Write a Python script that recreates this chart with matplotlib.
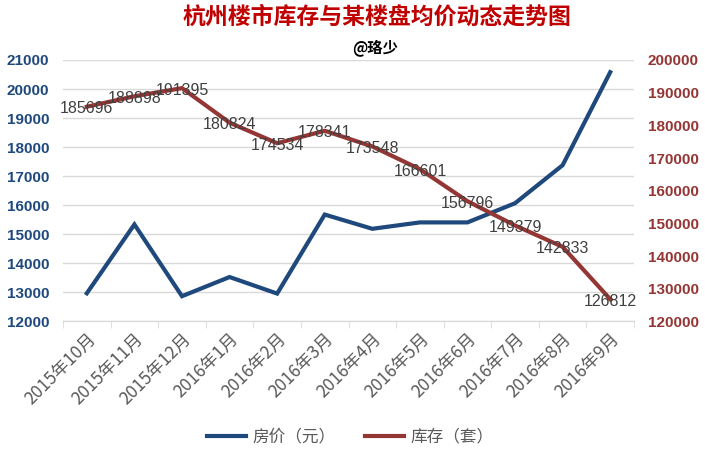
import matplotlib
matplotlib.use("Agg")
import matplotlib.pyplot as plt
from matplotlib.lines import Line2D
import numpy as np

plt.rcParams['font.family'] = ['Noto Sans CJK SC', 'DejaVu Sans']

months = ["2015年10月", "2015年11月", "2015年12月", "2016年1月", "2016年2月", "2016年3月",
          "2016年4月", "2016年5月", "2016年6月", "2016年7月", "2016年8月", "2016年9月"]
price = [12970, 15340, 12870, 13530, 12960, 15680, 15190, 15410, 15410, 16070, 17380, 20580]
stock = [185696, 188898, 191395, 180824, 174534, 178341, 173548, 166601, 156796, 149379, 142833, 126812]

left_ticks = list(range(12000, 21001, 1000))
right_ticks = list(range(120000, 200001, 10000))

BLUE = "#1F497D"
RED = "#943634"

fig = plt.figure(figsize=(7.05, 4.5), dpi=100)
ax = fig.add_axes([0.0894, 0.2856, 0.8099, 0.5811])
ax2 = ax.twinx()

x = np.arange(len(months))
ax.plot(x, price, color=BLUE, lw=3.0, solid_joinstyle="miter", zorder=3)
ax2.plot(x, stock, color=RED, lw=3.0, solid_joinstyle="miter", zorder=3)

# data labels sit roughly centred on the points, a hair below
for xi, v in zip(x, stock):
    ax2.annotate(str(v), (xi, v), xytext=(0, -1.5), textcoords="offset points",
                 ha="center", va="center", fontsize=11.5,
                 color="#404040", family=["Liberation Sans"], zorder=4)

ax.set_xlim(-0.5, len(months) - 0.5)
ax.set_ylim(12000, 21000)
ax2.set_ylim(120000, 200000)
ax.set_yticks(left_ticks)
ax2.set_yticks(right_ticks)
ax.yaxis.grid(True, color="#D9D9D9", lw=1)
ax.set_axisbelow(True)

for a in (ax, ax2):
    for s in ("top", "left", "right"):
        a.spines[s].set_visible(False)
    a.spines["bottom"].set_color("#D9D9D9")
    a.tick_params(axis="y", length=0)

ax.tick_params(axis="y", labelcolor=BLUE, pad=10)
ax2.tick_params(axis="y", labelcolor=RED, pad=10)
for lab in ax.get_yticklabels() + ax2.get_yticklabels():
    lab.set_fontweight("bold"); lab.set_fontsize(11); lab.set_family(["Liberation Sans"])

ax.set_xticks(x)
ax.set_xticklabels(months, rotation=45, ha="right", rotation_mode="anchor",
                   fontsize=12.5, color="#595959")
ax.tick_params(axis="x", which="major", length=0, pad=6)
ax.set_xticks(np.arange(-0.5, len(months) + 0.5, 1), minor=True)
ax.tick_params(axis="x", which="minor", length=5, color="#D9D9D9")

fig.text(0.535, 0.962, "杭州楼市库存与某楼盘均价动态走势图", ha="center", va="center",
         fontsize=16.5, fontweight="bold", color="#C00000")
fig.text(0.532, 0.895, "@珞少", ha="center", va="center", fontsize=11,
         fontweight="bold", color="black")

handles = [Line2D([], [], color=BLUE, lw=3), Line2D([], [], color=RED, lw=3)]
fig.legend(handles, ["房价（元）", "库存（套）"], loc="center", bbox_to_anchor=(0.497, 0.028),
           ncol=2, frameon=False, fontsize=12, handlelength=2.3, handletextpad=0.4,
           columnspacing=1.8, labelcolor="#595959")

fig.savefig("out.png", dpi=100)
